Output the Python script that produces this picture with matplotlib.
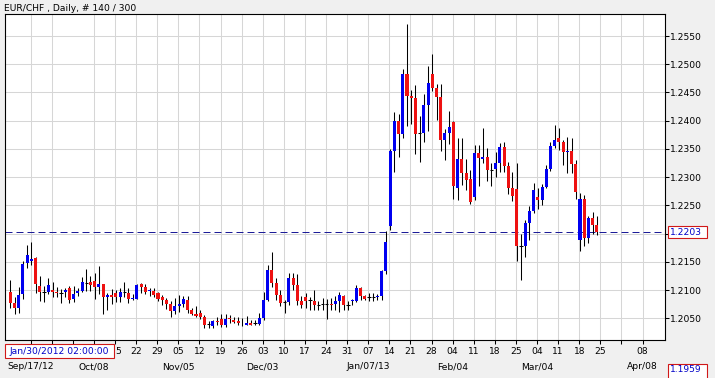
import numpy as np
import matplotlib
matplotlib.use("Agg")
import matplotlib.pyplot as plt
import matplotlib.transforms as mtransforms
from matplotlib.patches import Rectangle

# EUR/CHF daily candles (140 bars)
opens = [
    1.2097, 1.2078, 1.2069, 1.2093, 1.2148, 1.2151, 1.2156, 1.2108, 1.2096, 1.2096,
    1.2101, 1.2096, 1.2094, 1.2096, 1.2103, 1.2084, 1.2094, 1.2099, 1.2112, 1.2115,
    1.2116, 1.2105, 1.2111, 1.2087, 1.2092, 1.2094, 1.2088, 1.2096, 1.2095, 1.2085,
    1.2085, 1.2110, 1.2106, 1.2098, 1.2098, 1.2094, 1.2087, 1.2082, 1.2075, 1.2063,
    1.2071, 1.2075, 1.2082, 1.2065, 1.2058, 1.2059, 1.2052, 1.2040, 1.2037, 1.2046,
    1.2049, 1.2038, 1.2050, 1.2047, 1.2046, 1.2044, 1.2038, 1.2041, 1.2041, 1.2040,
    1.2050, 1.2082, 1.2136, 1.2113, 1.2091, 1.2079, 1.2079, 1.2121, 1.2109, 1.2081,
    1.2088, 1.2082, 1.2081, 1.2074, 1.2075, 1.2075, 1.2076, 1.2075, 1.2081, 1.2089,
    1.2074, 1.2080, 1.2081, 1.2103, 1.2089, 1.2087, 1.2088, 1.2087, 1.2089, 1.2134,
    1.2213, 1.2347, 1.2400, 1.2377, 1.2482, 1.2444, 1.2440, 1.2378, 1.2378, 1.2428,
    1.2482, 1.2458, 1.2442, 1.2365, 1.2378, 1.2397, 1.2281, 1.2333, 1.2308, 1.2297,
    1.2264, 1.2342, 1.2333, 1.2335, 1.2313, 1.2314, 1.2325, 1.2354, 1.2320, 1.2280,
    1.2279, 1.2178, 1.2178, 1.2219, 1.2240, 1.2265, 1.2259, 1.2283, 1.2314, 1.2356,
    1.2369, 1.2362, 1.2344, 1.2347, 1.2324, 1.2189, 1.2262, 1.2193, 1.2227, 1.2215,
]
highs = [
    1.2118, 1.2088, 1.2106, 1.2152, 1.2180, 1.2185, 1.2158, 1.2125, 1.2108, 1.2121,
    1.2114, 1.2105, 1.2102, 1.2104, 1.2108, 1.2108, 1.2104, 1.2123, 1.2137, 1.2125,
    1.2131, 1.2142, 1.2111, 1.2095, 1.2102, 1.2100, 1.2103, 1.2114, 1.2103, 1.2093,
    1.2110, 1.2112, 1.2110, 1.2104, 1.2103, 1.2096, 1.2091, 1.2086, 1.2080, 1.2086,
    1.2091, 1.2089, 1.2089, 1.2068, 1.2072, 1.2064, 1.2056, 1.2045, 1.2047, 1.2053,
    1.2057, 1.2057, 1.2055, 1.2052, 1.2052, 1.2050, 1.2054, 1.2047, 1.2047, 1.2060,
    1.2097, 1.2145, 1.2168, 1.2121, 1.2100, 1.2082, 1.2130, 1.2130, 1.2128, 1.2089,
    1.2094, 1.2088, 1.2100, 1.2080, 1.2086, 1.2084, 1.2086, 1.2089, 1.2097, 1.2091,
    1.2080, 1.2085, 1.2109, 1.2106, 1.2091, 1.2094, 1.2095, 1.2093, 1.2136, 1.2205,
    1.2350, 1.2415, 1.2412, 1.2491, 1.2571, 1.2454, 1.2464, 1.2409, 1.2447, 1.2497,
    1.2518, 1.2465, 1.2465, 1.2386, 1.2418, 1.2400, 1.2369, 1.2369, 1.2332, 1.2313,
    1.2357, 1.2357, 1.2387, 1.2351, 1.2325, 1.2345, 1.2360, 1.2363, 1.2327, 1.2309,
    1.2325, 1.2199, 1.2225, 1.2249, 1.2290, 1.2281, 1.2288, 1.2322, 1.2363, 1.2393,
    1.2387, 1.2366, 1.2372, 1.2369, 1.2330, 1.2272, 1.2269, 1.2231, 1.2238, 1.2231,
]
lows = [
    1.2068, 1.2058, 1.2059, 1.2085, 1.2140, 1.2144, 1.2094, 1.2081, 1.2079, 1.2093,
    1.2087, 1.2087, 1.2077, 1.2087, 1.2077, 1.2079, 1.2090, 1.2096, 1.2099, 1.2099,
    1.2084, 1.2093, 1.2058, 1.2064, 1.2075, 1.2079, 1.2079, 1.2088, 1.2078, 1.2083,
    1.2084, 1.2094, 1.2093, 1.2090, 1.2088, 1.2081, 1.2074, 1.2066, 1.2053, 1.2058,
    1.2061, 1.2070, 1.2059, 1.2056, 1.2052, 1.2048, 1.2033, 1.2033, 1.2033, 1.2039,
    1.2035, 1.2035, 1.2041, 1.2041, 1.2038, 1.2036, 1.2038, 1.2038, 1.2038, 1.2038,
    1.2047, 1.2080, 1.2106, 1.2082, 1.2071, 1.2060, 1.2073, 1.2100, 1.2074, 1.2068,
    1.2068, 1.2064, 1.2064, 1.2065, 1.2065, 1.2049, 1.2065, 1.2065, 1.2062, 1.2065,
    1.2065, 1.2074, 1.2079, 1.2083, 1.2082, 1.2080, 1.2081, 1.2082, 1.2082, 1.2128,
    1.2207, 1.2309, 1.2335, 1.2370, 1.2391, 1.2394, 1.2341, 1.2327, 1.2363, 1.2382,
    1.2452, 1.2401, 1.2346, 1.2331, 1.2359, 1.2262, 1.2260, 1.2286, 1.2277, 1.2253,
    1.2260, 1.2285, 1.2325, 1.2294, 1.2285, 1.2300, 1.2309, 1.2309, 1.2271, 1.2257,
    1.2152, 1.2117, 1.2159, 1.2189, 1.2236, 1.2243, 1.2251, 1.2281, 1.2311, 1.2352,
    1.2349, 1.2322, 1.2308, 1.2308, 1.2261, 1.2170, 1.2178, 1.2184, 1.2199, 1.2197,
]
closes = [
    1.2078, 1.2069, 1.2092, 1.2146, 1.2163, 1.2155, 1.2111, 1.2096, 1.2096, 1.2109,
    1.2096, 1.2094, 1.2094, 1.2101, 1.2082, 1.2093, 1.2098, 1.2114, 1.2112, 1.2109,
    1.2105, 1.2111, 1.2087, 1.2092, 1.2087, 1.2088, 1.2096, 1.2096, 1.2085, 1.2086,
    1.2109, 1.2106, 1.2097, 1.2100, 1.2091, 1.2084, 1.2082, 1.2075, 1.2063, 1.2071,
    1.2076, 1.2084, 1.2065, 1.2058, 1.2054, 1.2052, 1.2039, 1.2040, 1.2045, 1.2044,
    1.2039, 1.2048, 1.2048, 1.2044, 1.2042, 1.2043, 1.2041, 1.2039, 1.2041, 1.2050,
    1.2082, 1.2136, 1.2113, 1.2091, 1.2078, 1.2079, 1.2121, 1.2109, 1.2081, 1.2074,
    1.2081, 1.2082, 1.2074, 1.2074, 1.2075, 1.2075, 1.2073, 1.2081, 1.2091, 1.2074,
    1.2074, 1.2082, 1.2103, 1.2089, 1.2085, 1.2087, 1.2088, 1.2089, 1.2134, 1.2186,
    1.2347, 1.2400, 1.2377, 1.2482, 1.2444, 1.2441, 1.2377, 1.2378, 1.2428, 1.2467,
    1.2458, 1.2442, 1.2365, 1.2378, 1.2388, 1.2284, 1.2333, 1.2308, 1.2295, 1.2256,
    1.2342, 1.2334, 1.2335, 1.2313, 1.2313, 1.2325, 1.2354, 1.2320, 1.2280, 1.2266,
    1.2178, 1.2178, 1.2219, 1.2240, 1.2277, 1.2260, 1.2283, 1.2314, 1.2356, 1.2365,
    1.2362, 1.2344, 1.2346, 1.2324, 1.2274, 1.2262, 1.2193, 1.2227, 1.2215, 1.2203,
]

price_levels = [1.2050, 1.2100, 1.2150, 1.2200, 1.2250, 1.2300, 1.2350, 1.2400, 1.2450, 1.2500, 1.2550]
# first four day labels sit under the cursor-time box, only the "5" of "15" shows
day_labels = ["", "", "", "", "5", "22", "29", "05", "12", "19", "26", "03", "10", "17", "24",
              "31", "07", "14", "21", "28", "04", "11", "18", "25", "04", "11", "18", "25", "", "08"]
month_labels = {0: "Sep/17/12", 3: "Oct/08", 7: "Nov/05", 11: "Dec/03", 16: "Jan/07/13",
                20: "Feb/04", 24: "Mar/04", 29: "Apr/08"}
last_price = 1.2203
title = "EUR/CHF , Daily, # 140 / 300"
cursor_time = "Jan/30/2012 02:00:00"
bottom_price = "1.1959"

W, H = 715, 378
BULL = "#0000f0"
BEAR = "#ee1111"
GRID = "#d6d6d6"

o = np.array(opens)
h = np.array(highs)
l = np.array(lows)
c = np.array(closes)
idx = np.arange(len(o))

fig = plt.figure(figsize=(W / 100, H / 100), dpi=100, facecolor="#f0f0f0")
ax = fig.add_axes([5 / W, (H - 340) / H, 660 / W, 326 / H])
ax.set_facecolor("white")

# grid
for p in price_levels:
    ax.axhline(p, color=GRID, lw=0.75, zorder=0)
week_pos = [4.83 + 5 * k for k in range(len(day_labels))]
for k, xp in enumerate(week_pos):
    if k != 2:
        ax.axvline(xp, color=GRID, lw=0.75, zorder=0)

# last price line
ax.axhline(last_price, color="#1c1c98", lw=0.72, linestyle=(0, (7, 4)), zorder=1)

# candles
ax.vlines(idx, l, h, color="black", lw=0.75, zorder=2)
doji = np.isclose(o, c)
body = ~doji
cols = np.where(c >= o, BULL, BEAR)
ax.bar(idx[body], (c - o)[body], bottom=o[body], width=0.72,
       color=cols[body], linewidth=0, zorder=3)
ax.hlines(c[doji], idx[doji] - 0.4, idx[doji] + 0.4, color="black", lw=0.75, zorder=3)

ax.set_xlim(-1.256, 155.14)
ax.set_ylim(1.20116, 1.25890)

for s in ax.spines.values():
    s.set_color("black")
    s.set_linewidth(0.8)

ax.yaxis.tick_right()
ax.set_yticks(price_levels)
ax.set_yticklabels(["" if abs(p - 1.22) < 1e-6 else f"{p:.4f}" for p in price_levels])
ax.tick_params(axis="y", direction="out", length=2.6, width=0.75, pad=0.8,
               labelsize=6.6, colors="black")
ax.set_xticks(week_pos)
ax.set_xticklabels([])
ax.tick_params(axis="x", direction="out", length=2.6, width=0.75)

# x labels (two rows)
tr = mtransforms.blended_transform_factory(ax.transData, fig.transFigure)
for xp, lab in zip(week_pos, day_labels):
    if not lab:
        continue
    ha = "left" if len(lab) == 1 else "center"
    ax.text(xp, (H - 354) / H, lab, transform=tr, ha=ha, va="baseline",
            fontsize=6.6, clip_on=False)
for k, lab in month_labels.items():
    ax.text(week_pos[k], (H - 369) / H, lab, transform=tr, ha="center", va="baseline",
            fontsize=6.6, clip_on=False)

# title
fig.text(4 / W, (H - 11) / H, title, fontsize=6.6, ha="left", va="baseline")

# boxes
def box(x0, y0, x1, y1, text, tx, ty, ha):
    fig.patches.append(Rectangle((x0 / W, (H - y1) / H), (x1 - x0) / W, (y1 - y0) / H,
                                 transform=fig.transFigure, facecolor="white",
                                 edgecolor="#d01818", lw=0.8, zorder=5))
    fig.text(tx / W, (H - ty) / H, text, fontsize=6.6, color="#0000c8",
             ha=ha, va="baseline", zorder=6)

box(4.5, 343.5, 114, 358, cursor_time, 59, 354, "center")
box(667.5, 226, 706.5, 237.5, f"{last_price:.4f}", 669.5, 235, "left")
box(668, 363.5, 707, 382, bottom_price, 669.5, 372, "left")

fig.savefig("out.png", dpi=100, facecolor=fig.get_facecolor())
